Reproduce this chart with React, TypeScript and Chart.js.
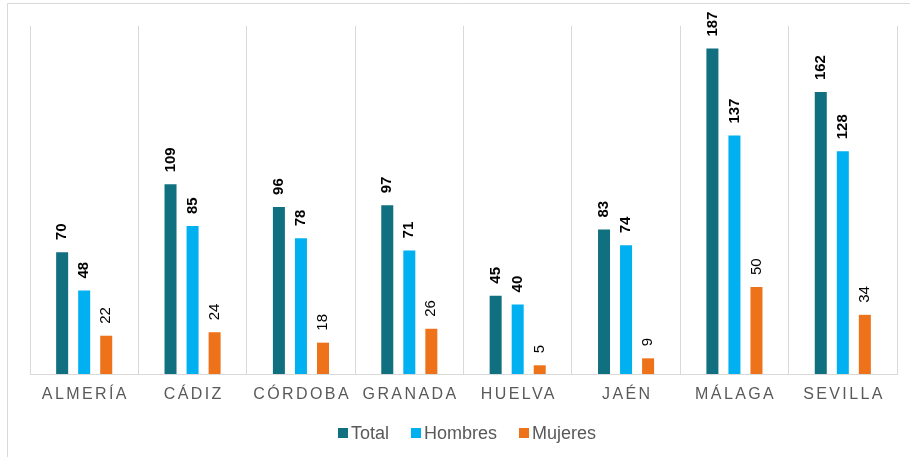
import React, { useEffect, useRef } from "react";
import { Chart, registerables } from "chart.js";

Chart.register(...registerables);

const categories = ["ALMERÍA", "CÁDIZ", "CÓRDOBA", "GRANADA", "HUELVA", "JAÉN", "MÁLAGA", "SEVILLA"];
const total = [70, 109, 96, 97, 45, 83, 187, 162];
const hombres = [48, 85, 78, 71, 40, 74, 137, 128];
const mujeres = [22, 24, 18, 26, 5, 9, 50, 34];
const seriesNames = ["Total", "Hombres", "Mujeres"];
const seriesColors = ["#11707F", "#00B0F0", "#EE7219"];
const labelBold = [true, true, false];

const FONT = '"Liberation Sans", Arial, sans-serif';

const customPlugin = {
  id: "custom",
  afterDatasetsDraw(chart: any) {
    const ctx = chart.ctx;
    ctx.save();
    chart.data.datasets.forEach((ds: any, di: number) => {
      const meta = chart.getDatasetMeta(di);
      meta.data.forEach((bar: any, i: number) => {
        ctx.save();
        ctx.translate(bar.x, bar.y - 12);
        ctx.rotate(-Math.PI / 2);
        ctx.font = `${labelBold[di] ? "bold " : ""}15px ${FONT}`;
        ctx.fillStyle = "#000000";
        ctx.textAlign = "left";
        ctx.textBaseline = "middle";
        ctx.fillText(String(ds.data[i]), 0, 0);
        ctx.restore();
      });
    });
    ctx.restore();
  },
  afterDraw(chart: any) {
    const ctx = chart.ctx;
    const xScale = chart.scales.x;
    ctx.save();
    // category labels
    const spacing = 2.4;
    ctx.font = `16px ${FONT}`;
    ctx.fillStyle = "#595959";
    ctx.textAlign = "center";
    ctx.textBaseline = "middle";
    (ctx as any).letterSpacing = `${spacing}px`;
    categories.forEach((c, i) => {
      const x = xScale.getPixelForTick(i);
      ctx.fillText(c, x + spacing / 2, 395);
    });
    (ctx as any).letterSpacing = "0px";

    // legend
    ctx.font = `18px ${FONT}`;
    ctx.textAlign = "left";
    const box = 10;
    const gap = 3;
    const itemGap = 22;
    const widths = seriesNames.map((n) => box + gap + ctx.measureText(n).width);
    const totalW = widths.reduce((a, b) => a + b, 0) + itemGap * (widths.length - 1);
    let x = 467 - totalW / 2;
    const cy = 433;
    seriesNames.forEach((n, i) => {
      ctx.fillStyle = seriesColors[i];
      ctx.fillRect(x, cy - box / 2, box, box);
      ctx.fillStyle = "#595959";
      ctx.fillText(n, x + box + gap, cy + 1);
      x += widths[i] + itemGap;
    });

    // outer frame
    ctx.strokeStyle = "#D9D9D9";
    ctx.lineWidth = 1;
    ctx.beginPath();
    ctx.moveTo(7.5, 460);
    ctx.lineTo(7.5, 3.5);
    ctx.lineTo(915, 3.5);
    ctx.stroke();
    ctx.restore();
  },
};

export default function App() {
  const ref = useRef<HTMLCanvasElement>(null);
  useEffect(() => {
    document.body.style.margin = "0";
    const canvas = ref.current!;
    const chart = new Chart(canvas, {
      type: "bar",
      data: {
        labels: categories,
        datasets: [total, hombres, mujeres].map((d, i) => ({
          label: seriesNames[i],
          data: d,
          backgroundColor: seriesColors[i],
          categoryPercentage: 0.61,
          barPercentage: 0.545,
        })),
      },
      options: {
        responsive: false,
        animation: false,
        devicePixelRatio: 1,
        layout: { padding: { left: 30, right: 13, top: 26, bottom: 83 } },
        plugins: {
          legend: { display: false },
          tooltip: { enabled: false },
        },
        scales: {
          x: {
            ticks: { display: false },
            grid: { display: true, offset: true, color: "#D9D9D9", lineWidth: 1, drawTicks: false },
            border: { display: true, color: "#D9D9D9", width: 1 },
          },
          y: {
            display: false,
            min: 0,
            max: 200,
          },
        },
      },
      plugins: [customPlugin],
    });
    return () => chart.destroy();
  }, []);
  return (
    <div style={{ width: 910, height: 457, background: "#fff" }}>
      <canvas ref={ref} width={910} height={457} style={{ display: "block" }} />
    </div>
  );
}
